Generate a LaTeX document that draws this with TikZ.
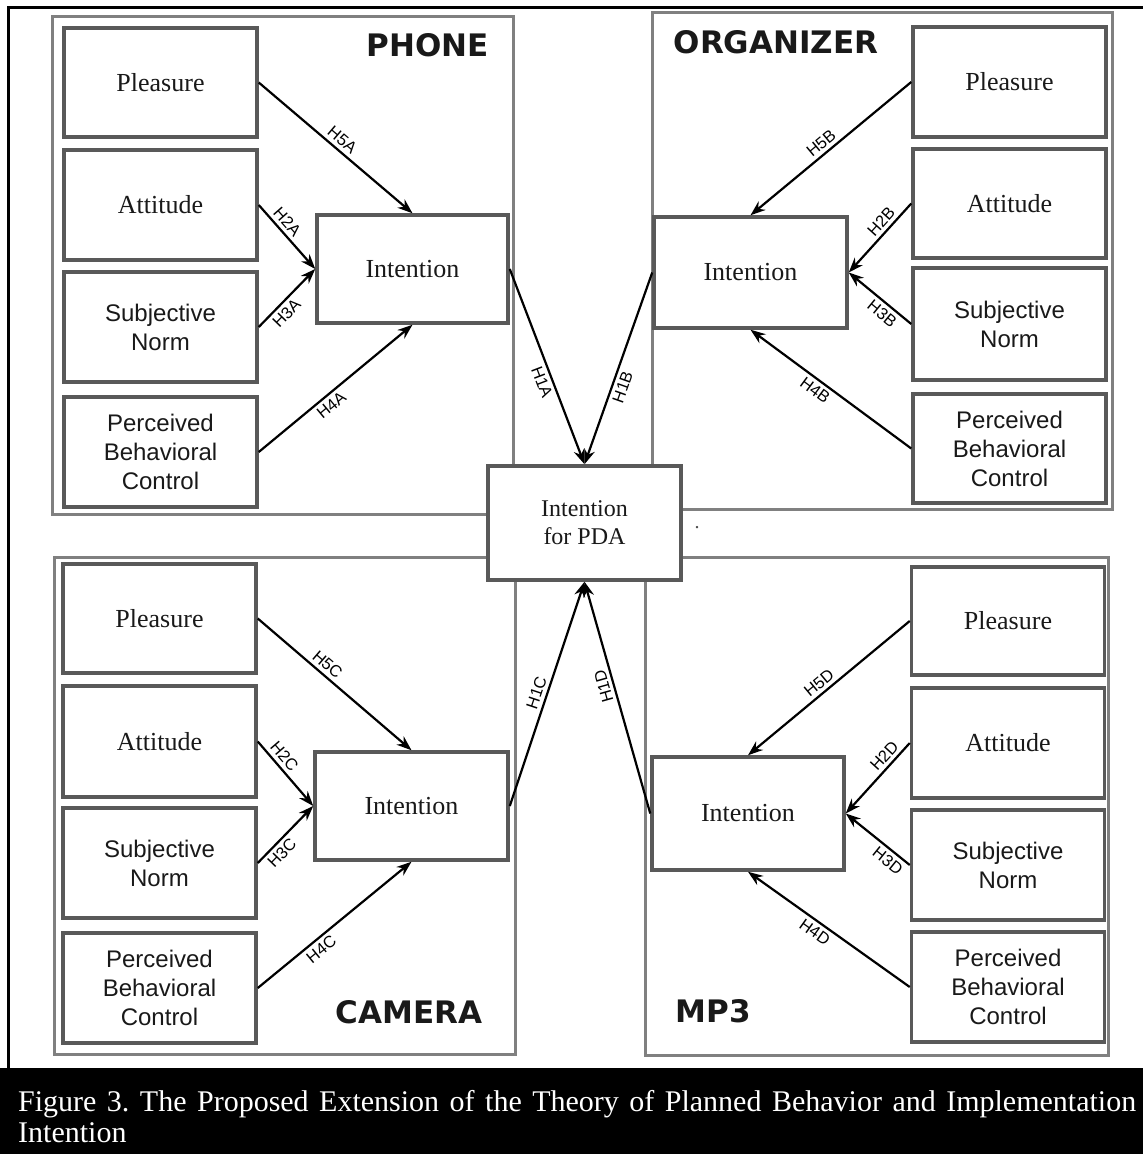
\documentclass[tikz,border=0pt]{standalone}
\usepackage{fontspec}
\setmainfont{Liberation Serif}
\newfontfamily\sansf{Liberation Sans}
\newfontfamily\titlef{DejaVu Sans}
\usetikzlibrary{arrows.meta}
\frenchspacing
\begin{document}
\begin{tikzpicture}[x=1pt,y=-1pt,
  panel/.style={draw=black!50, line width=3pt},
  cbox/.style={draw=black!65, line width=3.5pt, fill=white, minimum width=193pt, minimum height=110pt, inner sep=0pt, align=center, text=black!90, font=\fontsize{26}{30}\selectfont},
  sbox/.style={cbox, font=\sansf\fontsize{24}{29}\selectfont},
  arr/.style={line width=2.2pt, -{Stealth[length=15pt,width=11pt]}},
  hyp/.style={font=\sansf\fontsize{16.5}{16}\selectfont, inner sep=3.5pt, sloped},
  ttl/.style={font=\titlef\bfseries\fontsize{31}{31}\selectfont, text=black!90}
]
\useasboundingbox (0,0) rectangle (1143,1154);
% outer frame
\draw[line width=3pt] (8,1068) -- (8,7) -- (1143,7);
% panels
\draw[panel] (52,16) rectangle (513,514);
\draw[panel] (652,12) rectangle (1112,509);
\draw[panel] (54,557) rectangle (515,1054);
\draw[panel] (645,557) rectangle (1108,1055);
% titles
\node[ttl] (tA) at (428,45) {PHONE};
\node[ttl] (tB) at (776,42) {ORGANIZER};
\node[ttl] (tC) at (409,1012) {CAMERA};
\node[ttl] (tD) at (713,1011) {MP3};
% phone
\node[cbox, minimum height=109pt] (pA) at (160.5,82.5) {Pleasure};
\node[cbox] (aA) at (160.5,205) {Attitude};
\node[sbox] (sA) at (160.5,327) {Subjective\\Norm};
\node[sbox] (cA) at (160.5,452) {Perceived\\Behavioral\\Control};
\node[cbox, minimum width=191pt, minimum height=108pt] (iA) at (412.5,269) {Intention};
% organizer
\node[cbox] (pB) at (1009.5,82) {Pleasure};
\node[cbox, minimum height=109pt] (aB) at (1009.5,203.5) {Attitude};
\node[sbox, minimum height=112pt] (sB) at (1009.5,324) {Subjective\\Norm};
\node[sbox, minimum height=109pt] (cB) at (1009.5,448.5) {Perceived\\Behavioral\\Control};
\node[cbox, minimum height=111pt] (iB) at (750.5,272.5) {Intention};
% camera
\node[cbox, minimum height=109pt] (pC) at (159.5,618.5) {Pleasure};
\node[cbox, minimum height=111pt] (aC) at (159.5,741.5) {Attitude};
\node[sbox] (sC) at (159.5,863) {Subjective\\Norm};
\node[sbox] (cC) at (159.5,988) {Perceived\\Behavioral\\Control};
\node[cbox, minimum height=108pt] (iC) at (411.5,806) {Intention};
% mp3
\node[cbox, minimum height=108pt] (pD) at (1008,621) {Pleasure};
\node[cbox] (aD) at (1008,743) {Attitude};
\node[sbox] (sD) at (1008,865) {Subjective\\Norm};
\node[sbox] (cD) at (1008,987) {Perceived\\Behavioral\\Control};
\node[cbox, minimum width=192pt, minimum height=113pt] (iD) at (748,813.5) {Intention};
% center
\node[cbox, minimum height=114pt, font=\fontsize{24}{28}\selectfont] (ctr) at (584.5,523) {Intention\\for PDA};
\node[font=\fontsize{20}{20}\selectfont, inner sep=0pt, text=black!70] (dot) at (697,528) {.};
% arrows phone
\draw[arr] (pA.east) -- node[hyp, pos=0.5, above] {H5A} (iA.north);
\draw[arr] (aA.east) -- node[hyp, pos=0.37, above] {H2A} (iA.west);
\draw[arr] (sA.east) -- node[hyp, pos=0.36, below] {H3A} (iA.west);
\draw[arr] (cA.east) -- node[hyp, pos=0.43, below] {H4A} (iA.south);
% organizer
\draw[arr] (pB.west) -- node[hyp, pos=0.52, above] {H5B} (iB.north);
\draw[arr] (aB.west) -- node[hyp, pos=0.36, above] {H2B} (iB.east);
\draw[arr] (sB.west) -- node[hyp, pos=0.36, below] {H3B} (iB.east);
\draw[arr] (cB.west) -- node[hyp, pos=0.56, below] {H4B} (iB.south);
% camera
\draw[arr] (pC.east) -- node[hyp, pos=0.41, above] {H5C} (iC.north);
\draw[arr] (aC.east) -- node[hyp, pos=0.34, above] {H2C} (iC.west);
\draw[arr] (sC.east) -- node[hyp, pos=0.3, below] {H3C} (iC.west);
\draw[arr] (cC.east) -- node[hyp, pos=0.37, below] {H4C} (iC.south);
% mp3
\draw[arr] (pD.west) -- node[hyp, pos=0.52, above] {H5D} (iD.north);
\draw[arr] (aD.west) -- node[hyp, pos=0.28, above] {H2D} (iD.east);
\draw[arr] (sD.west) -- node[hyp, pos=0.24, below] {H3D} (iD.east);
\draw[arr] (cD.west) -- node[hyp, pos=0.55, below] {H4D} (iD.south);
% to center
\draw[arr] (iA.east) -- node[hyp, pos=0.56, below] {H1A} (ctr.north);
\draw[arr] (iB.west) -- node[hyp, pos=0.58, below] {H1B} (ctr.north);
\draw[arr] (iC.east) -- node[hyp, pos=0.49, above] {H1C} (ctr.south);
\draw[arr] (iD.west) -- node[hyp, pos=0.56, above, allow upside down] {H1D} (ctr.south);
% caption
\fill[black] (0,1068) rectangle (1143,1154);
\node[anchor=base west, text=white, inner sep=0pt, font=\fontsize{30}{34}\selectfont] (cap1) at (18,1111) {\makebox[1118pt][s]{Figure 3. The Proposed Extension of the Theory of Planned Behavior and Implementation}};
\node[anchor=base west, text=white, inner sep=0pt, font=\fontsize{30}{34}\selectfont] (cap2) at (18,1142) {Intention};
\end{tikzpicture}
\end{document}
